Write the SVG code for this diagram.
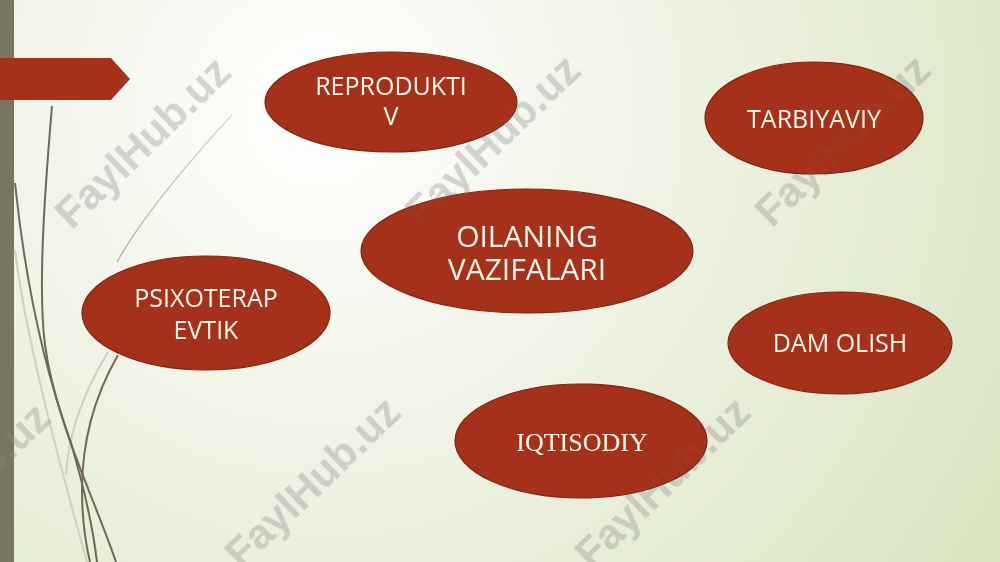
<svg xmlns="http://www.w3.org/2000/svg" width="1000" height="562" viewBox="0 0 1000 562">
  <defs>
    <radialGradient id="bg" gradientUnits="userSpaceOnUse" cx="320" cy="110" r="900">
      <stop offset="0" stop-color="#ffffff"/>
      <stop offset="0.3" stop-color="#f3f5ea"/>
      <stop offset="0.7" stop-color="#e2eacf"/>
      <stop offset="1" stop-color="#d4dfb8"/>
    </radialGradient>
    <linearGradient id="thin" x1="0" y1="0" x2="0" y2="1">
      <stop offset="0" stop-color="#d9dbd0"/>
      <stop offset="1" stop-color="#a9a897"/>
    </linearGradient>
    <style>
      .node ellipse { fill: #a6311a; stroke: #7f2411; stroke-width: 1.2; }
      .lbl { font-family: "Open Sans", "Noto Sans", "Liberation Sans", sans-serif; font-size: 25px; fill: #fff6ee; text-anchor: middle; }
      .big { font-size: 30px; }
      .serif { font-family: "Liberation Serif", "DejaVu Serif", serif; font-size: 26px; }
      .dark { fill: none; stroke: #6f6a57; stroke-width: 2; }
      .light { fill: none; stroke: #cdd0c3; stroke-width: 2; }
      .wm { font-family: "Liberation Sans", Arial, sans-serif; font-weight: bold; font-size: 42px; fill: #8c8c8c; text-anchor: middle; dominant-baseline: central; }
      .wm-under { opacity: 0.3; }
      .wm-over { opacity: 0.07; fill: #ffffff; }
    </style>
    <g id="wmset">
      <text class="wm" transform="translate(142,142) rotate(-44)">FaylHub.uz</text>
      <text class="wm" transform="translate(492,140) rotate(-44)">FaylHub.uz</text>
      <text class="wm" transform="translate(842,140) rotate(-44)">FaylHub.uz</text>
      <text class="wm" transform="translate(-38,488) rotate(-44)">FaylHub.uz</text>
      <text class="wm" transform="translate(312,482) rotate(-44)">FaylHub.uz</text>
      <text class="wm" transform="translate(662,482) rotate(-44)">FaylHub.uz</text>
    </g>
  </defs>

  <!-- background -->
  <rect x="0" y="0" width="1000" height="562" fill="url(#bg)"/>
  <rect x="0" y="0" width="14" height="562" fill="#7a7561"/>

  <!-- decorative curves -->
  <g id="decor">
    <path class="light" d="M15,250 C25,330 50,430 87,562"/>
    <path class="light" d="M108,352 C82,395 68,435 66,475"/>
    <path d="M232,115 C190,160 140,220 117,262" fill="none" stroke="url(#thin)" stroke-width="1.2"/>
    <path class="dark" d="M52,106 C44,200 38,290 45,345 C55,420 95,500 116,562"/>
    <path class="dark" d="M15,183 C25,280 45,370 70,440 C82,480 92,520 97,562"/>
    <path class="dark" d="M118,355 C95,395 82,440 82,490 C82,520 86,545 90,562"/>
    <polygon points="0,58 111,58 130,79 111,100 0,100" fill="#a6311a"/>
  </g>

  <!-- watermarks (behind the shapes) -->
  <g id="watermarks" class="wm-under">
    <use href="#wmset"/>
  </g>

  <g id="connectors"/>

  <g id="center" class="node">
    <ellipse cx="527" cy="251" rx="166" ry="62"/>
    <text class="lbl big" x="527" y="247">OILANING<tspan x="527" dy="33">VAZIFALARI</tspan></text>
  </g>

  <g id="reproduktiv" class="node">
    <ellipse cx="391" cy="102" rx="126" ry="50"/>
    <text class="lbl" x="391" y="95">REPRODUKTI<tspan x="391" dy="30">V</tspan></text>
  </g>

  <g id="tarbiyaviy" class="node">
    <ellipse cx="814" cy="118" rx="109" ry="56"/>
    <text class="lbl" x="814" y="128">TARBIYAVIY</text>
  </g>

  <g id="psixoterapevtik" class="node">
    <ellipse cx="206" cy="313" rx="124" ry="57"/>
    <text class="lbl" x="206" y="307">PSIXOTERAP<tspan x="206" dy="32">EVTIK</tspan></text>
  </g>

  <g id="dam-olish" class="node">
    <ellipse cx="840" cy="343" rx="112" ry="51"/>
    <text class="lbl" x="840" y="352">DAM OLISH</text>
  </g>

  <g id="iqtisodiy" class="node">
    <ellipse cx="581" cy="441" rx="126" ry="57"/>
    <text class="lbl serif" x="582" y="451">IQTISODIY</text>
  </g>

  <!-- faint watermark overlay on top of the shapes -->
  <g id="watermarks-overlay" class="wm-over">
    <use href="#wmset"/>
  </g>
</svg>
